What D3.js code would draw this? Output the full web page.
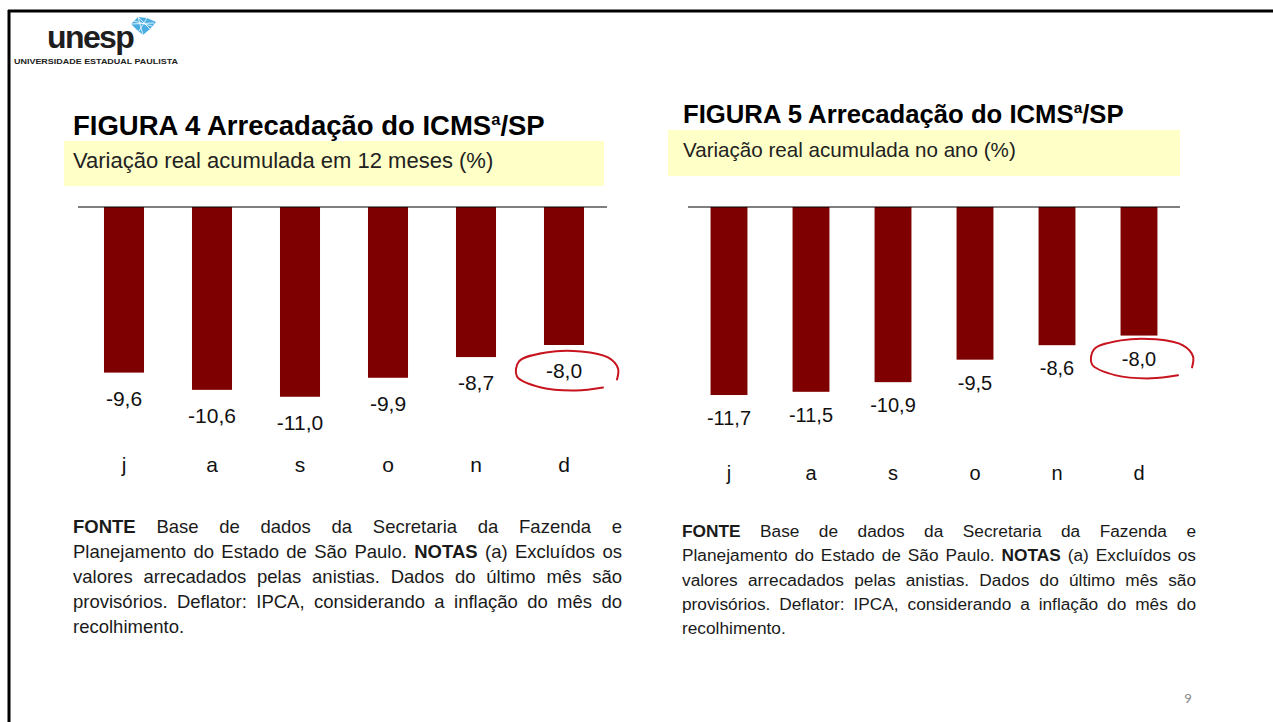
<!DOCTYPE html>
<html>
<head>
<meta charset="utf-8">
<script src="https://cdn.jsdelivr.net/npm/d3@7"></script>
<style>
  body { margin: 0; background: #fff; }
  svg { display: block; font-family: "Liberation Sans", Arial, sans-serif; }
</style>
</head>
<body>
<div id="slide"></div>
<script>
// data
const months = ["j", "a", "s", "o", "n", "d"];
const fig4Values = [-9.6, -10.6, -11.0, -9.9, -8.7, -8.0];
const fig5Values = [-11.7, -11.5, -10.9, -9.5, -8.6, -8.0];
const fig4Title = "FIGURA 4 Arrecadação do ICMS";
const fig5Title = "FIGURA 5 Arrecadação do ICMS";
const fig4Subtitle = "Variação real acumulada em 12 meses (%)";
const fig5Subtitle = "Variação real acumulada no ano (%)";
// note lines, [text, bold]
const noteLines = [
    [["FONTE", true], [" Base de dados da Secretaria da Fazenda e", false]],
    [["Planejamento do Estado de São Paulo. ", false], ["NOTAS", true], [" (a) Excluídos os", false]],
    [["valores arrecadados pelas anistias. Dados do último mês são", false]],
    [["provisórios. Deflator: IPCA, considerando a inflação do mês do", false]],
    [["recolhimento.", false]]
];

const W = 1273, H = 722;
const fmt = d3.formatLocale({ decimal: ",", thousands: ".", grouping: [3], currency: ["R$", ""], minus: "-" }).format(".1f");

const svg = d3.select("#slide").append("svg")
    .attr("width", W)
    .attr("height", H);

// slide frame
svg.append("line").attr("x1", 8).attr("y1", 11).attr("x2", W).attr("y2", 11)
    .attr("stroke", "#000").attr("stroke-width", 3);
svg.append("line").attr("x1", 9).attr("y1", 10).attr("x2", 9).attr("y2", H)
    .attr("stroke", "#000").attr("stroke-width", 3);

// logo
svg.append("text")
    .attr("x", 47).attr("y", 48)
    .attr("font-size", 32).attr("font-weight", "bold")
    .attr("letter-spacing", -1.6)
    .attr("fill", "#1e1e1e")
    .text("unesp");
svg.append("path")
    .attr("d", "M131,24 L138,17 L147,18 L156,22 L150,29 L143,35 L137,30 Z")
    .attr("fill", "#4aaee3");
svg.append("path")
    .attr("d", "M134,21 L152,26 M138,17 L143,35 M147,18 L139,31 M131,24 L154,23 M138,17 L150,29")
    .attr("stroke", "#fff").attr("stroke-width", 0.8).attr("fill", "none");
svg.append("text")
    .attr("x", 14).attr("y", 64)
    .attr("font-size", 8).attr("font-weight", "bold")
    .attr("textLength", 164).attr("lengthAdjust", "spacingAndGlyphs")
    .attr("fill", "#222")
    .text("UNIVERSIDADE ESTADUAL PAULISTA");

// page number
svg.append("text")
    .attr("x", 1184).attr("y", 703)
    .attr("font-family", "Carlito, 'Liberation Sans', sans-serif")
    .attr("font-size", 15).attr("fill", "#8c8c8c")
    .text("9");

function drawPanel(cfg) {
    const g = svg.append("g");

    // title with superscript a
    const title = g.append("text")
        .attr("x", cfg.titleX).attr("y", cfg.titleY)
        .attr("font-size", cfg.titleSize).attr("font-weight", "bold")
        .attr("fill", "#000");
    title.append("tspan").text(cfg.title);
    title.append("tspan").attr("dy", -cfg.titleSize * 0.38)
        .attr("font-size", cfg.titleSize * 0.6).text("a");
    title.append("tspan").attr("dy", cfg.titleSize * 0.38).text("/SP");

    // yellow subtitle band
    g.append("rect")
        .attr("x", cfg.box[0]).attr("y", cfg.box[1])
        .attr("width", cfg.box[2]).attr("height", cfg.box[3])
        .attr("fill", "#ffffc8");
    g.append("text")
        .attr("x", cfg.titleX).attr("y", cfg.subY)
        .attr("font-size", cfg.subSize).attr("fill", "#222")
        .text(cfg.subtitle);

    const data = months.map((m, i) => ({ m, v: cfg.values[i] }));

    const x = d3.scaleBand()
        .domain(months)
        .range(cfg.xRange)
        .paddingInner(cfg.pad)
        .paddingOuter(cfg.pad / 2);
    const y = d3.scaleLinear()
        .domain([0, -12])
        .range([cfg.zeroY, cfg.zeroY + 12 * cfg.unit]);

    g.selectAll(".bar")
        .data(data)
        .enter()
        .append("rect")
        .attr("class", "bar")
        .attr("x", d => x(d.m))
        .attr("y", y(0))
        .attr("width", x.bandwidth())
        .attr("height", d => y(d.v) - y(0))
        .attr("fill", "#7f0000");

    g.append("line")
        .attr("x1", cfg.lineX[0]).attr("x2", cfg.lineX[1])
        .attr("y1", y(0)).attr("y2", y(0))
        .attr("stroke", "#000").attr("stroke-width", 1);

    g.selectAll(".val")
        .data(data)
        .enter()
        .append("text")
        .attr("class", "val")
        .attr("x", d => x(d.m) + x.bandwidth() / 2)
        .attr("y", d => y(d.v) + cfg.valOffset)
        .attr("text-anchor", "middle")
        .attr("font-size", cfg.valSize)
        .attr("fill", "#111")
        .text(d => fmt(d.v));

    // month axis labels, no line, no ticks
    const axis = g.append("g")
        .attr("transform", `translate(0,${cfg.monthY})`)
        .call(d3.axisBottom(x).tickSize(0).tickPadding(0));
    axis.select(".domain").remove();
    axis.selectAll("text")
        .attr("font-family", "'Liberation Sans', Arial, sans-serif")
        .attr("font-size", cfg.monthSize)
        .attr("fill", "#111")
        .attr("dy", 0);

    // hand-drawn red ring round the last value
    const last = data[data.length - 1];
    const cx = x(last.m) + x.bandwidth() / 2 + 2;
    const cy = y(last.v) + cfg.valOffset - cfg.valSize * 0.36;
    const ring = [[37, 17], [10, 20], [-25, 17], [-49, 6], [-47, -9], [-20, -18], [15, -19], [42, -13], [52, -2], [51, 9]];
    g.append("path")
        .attr("d", d3.line().curve(d3.curveCatmullRom)(ring.map(p => [cx + p[0], cy + p[1]])))
        .attr("fill", "none")
        .attr("stroke", "#c8141e")
        .attr("stroke-width", 2)
        .attr("stroke-linecap", "round");

    // justified notes
    noteLines.forEach((line, i) => {
        const t = g.append("text")
            .attr("x", cfg.noteX)
            .attr("y", cfg.noteY + i * cfg.noteStep)
            .attr("font-size", cfg.noteSize)
            .attr("fill", "#1a1a1a")
            .attr("xml:space", "preserve");
        line.forEach(([s, b]) => {
            t.append("tspan").attr("font-weight", b ? "bold" : "normal").text(s);
        });
        if (i < noteLines.length - 1) {
            const full = line.map(s => s[0]).join("");
            const gaps = (full.match(/ /g) || []).length;
            const extra = cfg.noteW - t.node().getComputedTextLength();
            if (gaps > 0) t.attr("word-spacing", extra / gaps);
        }
    });
}

drawPanel({
    title: fig4Title, subtitle: fig4Subtitle, values: fig4Values,
    titleX: 73, titleY: 135, titleSize: 27.5,
    box: [64, 141, 540, 45], subY: 168, subSize: 22,
    xRange: [80, 608], pad: 0.545, zeroY: 207, unit: 17.25, lineX: [78, 607],
    valOffset: 33, valSize: 21, monthY: 472, monthSize: 21,
    noteX: 73, noteW: 549, noteY: 533, noteStep: 25, noteSize: 18.5
});

drawPanel({
    title: fig5Title, subtitle: fig5Subtitle, values: fig5Values,
    titleX: 683, titleY: 123, titleSize: 25.7,
    box: [668, 130, 512, 46], subY: 157, subSize: 20.6,
    xRange: [688, 1180], pad: 0.55, zeroY: 207, unit: 16.07, lineX: [688, 1180],
    valOffset: 30, valSize: 20, monthY: 480, monthSize: 20,
    noteX: 682, noteW: 514, noteY: 537, noteStep: 24.3, noteSize: 17.3
});
</script>
</body>
</html>
